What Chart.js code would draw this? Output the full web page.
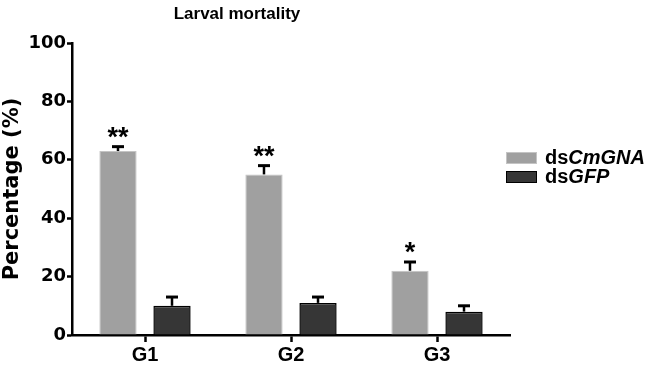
<!DOCTYPE html>
<html>
<head>
<meta charset="utf-8">
<script src="https://cdn.jsdelivr.net/npm/chart.js@4"></script>
<style>
  html, body { margin: 0; padding: 0; background: #fff; }
  #wrap { width: 645px; height: 368px; }
</style>
</head>
<body>
<div id="wrap"><canvas id="mortalityChart" width="645" height="368"></canvas></div>
<script>
const groups = ['G1', 'G2', 'G3'];
const seriesNames = ['dsCmGNA', 'dsGFP'];
const legendPrefix = ['ds', 'ds'];
const legendGene = ['CmGNA', 'GFP'];
const cmgnaValues = [63, 55, 22];
const cmgnaErrors = [1.5, 3, 3];
const gfpValues = [10, 11, 8];
const gfpErrors = [3, 2, 2];
const stars = ['**', '**', '*'];
const yTicks = [0, 20, 40, 60, 80, 100];

const FONT = '"Liberation Sans", Arial, sans-serif';
const WIDE = '"DejaVu Sans", sans-serif';

// error bars (upper half only) and significance stars
const errorBarPlugin = {
  id: 'errorBars',
  afterDatasetsDraw(chart) {
    const ctx = chart.ctx;
    const y = chart.scales.y;
    chart.data.datasets.forEach((ds, i) => {
      const meta = chart.getDatasetMeta(i);
      meta.data.forEach((bar, j) => {
        const topY = y.getPixelForValue(ds.data[j] + ds.errors[j]);
        ctx.save();
        ctx.strokeStyle = '#000';
        ctx.lineWidth = 2.5;
        ctx.beginPath();
        ctx.moveTo(bar.x, bar.y);
        ctx.lineTo(bar.x, topY);
        ctx.stroke();
        ctx.lineWidth = 3;
        ctx.beginPath();
        ctx.moveTo(bar.x - 6, topY);
        ctx.lineTo(bar.x + 6, topY);
        ctx.stroke();
        if (i === 0 && stars[j]) {
          ctx.fillStyle = '#000';
          ctx.font = 'bold 27px ' + FONT;
          ctx.textAlign = 'center';
          ctx.textBaseline = 'alphabetic';
          ctx.fillText(stars[j], bar.x, topY - 1);
        }
        ctx.restore();
      });
    });
  }
};

// title and legend with mixed italic text
const decorPlugin = {
  id: 'decor',
  afterDraw(chart) {
    const ctx = chart.ctx;
    ctx.save();
    ctx.fillStyle = '#000';
    ctx.font = 'bold 17px ' + FONT;
    ctx.textAlign = 'center';
    ctx.textBaseline = 'middle';
    ctx.fillText('Larval mortality', 237, 14);

    const boxY = [152, 171];
    chart.data.datasets.forEach((ds, i) => {
      ctx.fillStyle = ds.backgroundColor;
      ctx.fillRect(506, boxY[i], 31, 12);
      ctx.strokeStyle = ds.borderColor;
      ctx.lineWidth = 1;
      ctx.strokeRect(506.5, boxY[i] + 0.5, 30, 11);
      ctx.fillStyle = '#000';
      ctx.textAlign = 'left';
      ctx.textBaseline = 'alphabetic';
      ctx.font = 'bold 20px ' + FONT;
      ctx.fillText(legendPrefix[i], 545, boxY[i] + 12);
      const w = ctx.measureText(legendPrefix[i]).width;
      ctx.font = 'italic bold 20px ' + FONT;
      ctx.fillText(legendGene[i], 545 + w, boxY[i] + 12);
    });
    ctx.restore();
  }
};

new Chart(document.getElementById('mortalityChart'), {
  type: 'bar',
  data: {
    labels: groups,
    datasets: [
      {
        label: seriesNames[0],
        data: cmgnaValues,
        errors: cmgnaErrors,
        backgroundColor: '#a0a0a0',
        borderColor: '#c4c4c4',
        borderWidth: 1
      },
      {
        label: seriesNames[1],
        data: gfpValues,
        errors: gfpErrors,
        backgroundColor: '#363636',
        borderColor: '#000',
        borderWidth: 1.5
      }
    ]
  },
  options: {
    responsive: false,
    animation: false,
    layout: { padding: { top: 43, right: 135, bottom: 0, left: 0 } },
    datasets: {
      bar: { categoryPercentage: 0.74, barPercentage: 0.69 }
    },
    plugins: {
      legend: { display: false },
      title: { display: false },
      tooltip: { enabled: false }
    },
    scales: {
      x: {
        afterFit(s) { s.height = 33; },
        border: { color: '#000', width: 2.5 },
        grid: {
          offset: false,
          drawOnChartArea: false,
          drawTicks: true,
          tickLength: 7,
          tickColor: '#000',
          tickWidth: 2.5
        },
        ticks: {
          color: '#000',
          padding: 1,
          font: { family: FONT, size: 20, weight: 'bold' }
        }
      },
      y: {
        min: 0,
        max: 100,
        afterFit(s) { s.width = 72; },
        afterBuildTicks(s) { s.ticks = yTicks.map(v => ({ value: v })); },
        border: { color: '#000', width: 2.5 },
        grid: {
          drawOnChartArea: false,
          drawTicks: true,
          tickLength: 5,
          tickColor: '#000',
          tickWidth: 2.5
        },
        ticks: {
          color: '#000',
          padding: 1,
          font: { family: WIDE, size: 18, weight: 'bold' }
        },
        title: {
          display: true,
          text: 'Percentage (%)',
          color: '#000',
          padding: { top: 0, bottom: 0 },
          font: { family: WIDE, size: 21, weight: 'bold' }
        }
      }
    }
  },
  plugins: [errorBarPlugin, decorPlugin]
});
</script>
</body>
</html>
